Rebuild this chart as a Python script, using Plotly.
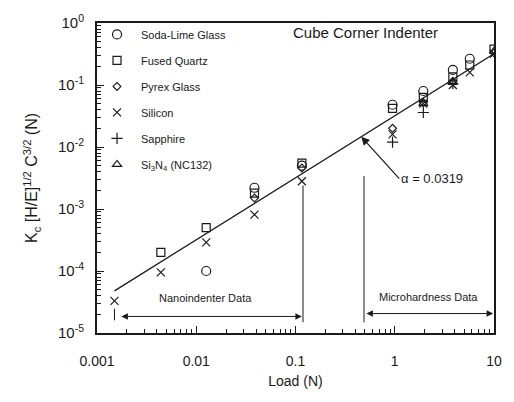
import numpy as np
import plotly.graph_objects as go

# Indentation load (N) and normalised toughness K_c [H/E]^1/2 c^3/2 (N)
soda_load = [0.0126, 0.0386, 0.116, 0.95, 1.94, 3.85, 5.7]
soda_val = [1.0e-4, 2.2e-3, 5.0e-3, 0.048, 0.080, 0.175, 0.265]

quartz_load = [0.0044, 0.0126, 0.0386, 0.116, 0.95, 1.94, 3.85, 5.7, 10.0]
quartz_val = [2.0e-4, 5.0e-4, 1.8e-3, 5.5e-3, 0.042, 0.063, 0.135, 0.21, 0.38]

pyrex_load = [0.0386, 0.116, 0.95, 1.94, 3.85, 10.0]
pyrex_val = [1.5e-3, 4.6e-3, 0.020, 0.052, 0.115, 0.33]

silicon_load = [0.0015, 0.0044, 0.0126, 0.0386, 0.116, 0.95, 1.94, 3.85, 5.7, 10.0]
silicon_val = [3.3e-5, 9.5e-5, 2.9e-4, 8.1e-4, 2.8e-3, 0.016, 0.050, 0.100, 0.160, 0.32]

sapphire_load = [0.95, 1.94, 3.85]
sapphire_val = [0.012, 0.036, 0.105]

si3n4_load = [1.94, 3.85, 10.0]
si3n4_val = [0.050, 0.110, 0.35]

alpha = 0.0319
fit_load = [0.0015, 10.0]

x_tickvals = [0.001, 0.01, 0.1, 1, 10]
x_ticktext = ["0.001", "0.01", "0.1", "1", "10"]
y_tickvals = [1e-5, 1e-4, 1e-3, 1e-2, 1e-1, 1e0]
y_ticktext = ["10<sup>-5</sup>", "10<sup>-4</sup>", "10<sup>-3</sup>",
              "10<sup>-2</sup>", "10<sup>-1</sup>", "10<sup>0</sup>"]

# minor ticks at 2..9 within each decade
x_minor = [m * 10.0 ** e for e in range(-3, 1) for m in range(2, 10)]
y_minor = [m * 10.0 ** e for e in range(-5, 0) for m in range(2, 10)]

FONT = "Liberation Sans, Arial, Helvetica, sans-serif"
INK = "#1a1a1a"

fig = go.Figure()

# alpha * P fit line
fig.add_trace(go.Scatter(
    x=fit_load, y=[alpha * p for p in fit_load], mode="lines",
    line=dict(color=INK, width=1.3), showlegend=False, hoverinfo="skip"))

series = [
    ("Soda-Lime Glass", soda_load, soda_val, "circle-open", 9),
    ("Fused Quartz", quartz_load, quartz_val, "square-open", 8),
    ("Pyrex Glass", pyrex_load, pyrex_val, "diamond-open", 6),
    ("Silicon", silicon_load, silicon_val, "x-thin-open", 8),
    ("Sapphire", sapphire_load, sapphire_val, "cross-thin-open", 8),
    ("Si<sub>3</sub>N<sub>4</sub> (NC132)", si3n4_load, si3n4_val, "triangle-up-open", 8),
]
for i, (name, xs, ys, sym, sz) in enumerate(series):
    fig.add_trace(go.Scatter(
        x=xs, y=ys, mode="markers", name=name, legendgroup=f"g{i}",
        marker=dict(symbol=sym, size=sz, color=INK, line=dict(color=INK, width=1.2))))

# Range boundary markers (vertical bars)
for xv, y0, y1 in [(0.0015, 1.6e-5, 2.47e-5), (0.119, 1.49e-5, 2.4e-3), (0.49, 1.49e-5, 3.4e-3)]:
    fig.add_trace(go.Scatter(x=[xv, xv], y=[y0, y1], mode="lines",
                             line=dict(color=INK, width=1), showlegend=False, hoverinfo="skip"))

ann = []
# double-headed range arrows (annotation coords are log10 on log axes)
for x0, x1, yv in [(0.0017, 0.116, 1.85e-5), (0.50, 9.8, 2.06e-5)]:
    ann.append(dict(x=np.log10(x1), y=np.log10(yv), ax=np.log10(x0), ay=np.log10(yv),
                    xref="x", yref="y", axref="x", ayref="y", text="", showarrow=True,
                    arrowhead=2, startarrowhead=2, arrowside="end+start",
                    arrowsize=1.3, startarrowsize=1.3, arrowwidth=1, arrowcolor=INK))
ann.append(dict(x=np.log10(0.0125), y=np.log10(3.7e-5), xref="x", yref="y",
                text="Nanoindenter Data", showarrow=False,
                font=dict(family=FONT, size=11, color=INK)))
ann.append(dict(x=np.log10(2.2), y=np.log10(3.8e-5), xref="x", yref="y",
                text="Microhardness Data", showarrow=False,
                font=dict(family=FONT, size=11, color=INK)))
# alpha label with arrow to the fit line
ann.append(dict(x=np.log10(0.46), y=np.log10(alpha * 0.46), xref="x", yref="y",
                text="\u03b1 = 0.0319", showarrow=True, ax=38, ay=42,
                xanchor="left", yanchor="middle",
                arrowhead=2, arrowsize=1.4, arrowwidth=1.2, arrowcolor=INK,
                font=dict(family=FONT, size=13, color=INK)))
ann.append(dict(x=0.677, y=0.97, xref="paper", yref="paper",
                xanchor="center", yanchor="middle",
                text="Cube Corner Indenter", showarrow=False,
                font=dict(family=FONT, size=15, color=INK)))

fig.update_layout(
    width=514, height=402,
    margin=dict(l=97, r=14, t=15, b=69),
    paper_bgcolor="white", plot_bgcolor="white",
    font=dict(family=FONT, size=13, color=INK),
    annotations=ann,
    legend=dict(x=-0.01, y=1.01, xanchor="left", yanchor="top",
                bgcolor="rgba(0,0,0,0)", font=dict(family=FONT, size=11, color=INK),
                tracegroupgap=7, itemsizing="trace", itemwidth=38),
    xaxis=dict(type="log", range=[-3, 1], tickvals=x_tickvals, ticktext=x_ticktext,
               ticks="inside", ticklen=7, tickwidth=1, tickcolor=INK,
               minor=dict(tickvals=x_minor, ticks="inside", ticklen=4, tickwidth=1,
                          tickcolor=INK, showgrid=False),
               showline=True, linewidth=2, linecolor=INK, mirror=True,
               showgrid=False, zeroline=False, ticklabelstandoff=14,
               title=dict(text="Load (N)", font=dict(size=14), standoff=8),
               tickfont=dict(size=14)),
    yaxis=dict(type="log", range=[-5, 0], tickvals=y_tickvals, ticktext=y_ticktext,
               ticks="inside", ticklen=7, tickwidth=1, tickcolor=INK,
               minor=dict(tickvals=y_minor, ticks="inside", ticklen=4, tickwidth=1,
                          tickcolor=INK, showgrid=False),
               showline=True, linewidth=2, linecolor=INK, mirror=True,
               showgrid=False, zeroline=False, ticklabelstandoff=8,
               title=dict(text="K<sub>c</sub> [H/E]<sup>1/2</sup> C<sup>3/2</sup> (N)",
                          font=dict(size=16), standoff=16),
               tickfont=dict(size=15)),
)

fig.write_html("out.html")
